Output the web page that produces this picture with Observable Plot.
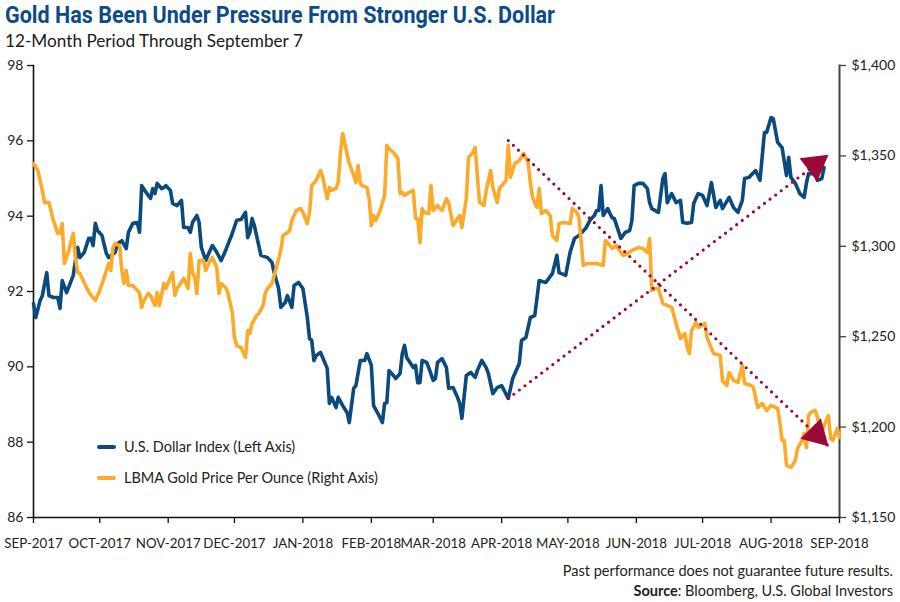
<!DOCTYPE html>
<html><head><meta charset="utf-8">
<script src="https://cdn.jsdelivr.net/npm/d3@7"></script>
<script src="https://cdn.jsdelivr.net/npm/@observablehq/plot@0.6"></script>
<style>
body{margin:0;background:#fff;}
#wrap{position:relative;width:900px;height:602px;overflow:hidden;font-family:Lato,"Open Sans",sans-serif;color:#222;}
#title{position:absolute;left:5px;top:1px;font-family:Roboto,sans-serif;font-weight:700;font-size:24px;color:#0d4b87;white-space:nowrap;transform-origin:0 0;}
#subtitle{position:absolute;left:5px;top:30px;font-size:17.2px;white-space:nowrap;color:#1a1a1a;}
#chart{position:absolute;left:0;top:55px;}
.leg{position:absolute;left:97px;font-size:14.5px;white-space:nowrap;display:flex;align-items:center;}
.leg span.sw{display:inline-block;width:19px;height:4px;border-radius:2px;margin-right:8px;}
#foot{position:absolute;right:7px;top:561px;text-align:right;font-size:14.5px;line-height:20px;color:#222;}
</style></head>
<body>
<div id="wrap">
<div id="title">Gold Has Been Under Pressure From Stronger U.S. Dollar</div>
<div id="subtitle">12-Month Period Through September 7</div>
<div id="chart"></div>
<div class="leg" style="top:438px"><span class="sw" style="background:#0a4a7c"></span>U.S. Dollar Index (Left Axis)</div>
<div class="leg" style="top:469px"><span class="sw" style="background:#fcaa2a"></span>LBMA Gold Price Per Ounce (Right Axis)</div>
<div id="foot">Past performance does not guarantee future results.<br><b>Source</b>: Bloomberg, U.S. Global Investors</div>
</div>
<script>
// U.S. Dollar Index (left axis)
const dollarIndex = [
["2017-09-01",91.68],["2017-09-02",91.31],["2017-09-04",91.76],["2017-09-05",91.89],["2017-09-07",92.50],["2017-09-08",91.89],
["2017-09-10",91.84],["2017-09-12",91.84],["2017-09-13",91.55],["2017-09-14",92.29],["2017-09-16",91.97],["2017-09-19",92.43],
["2017-09-20",92.82],["2017-09-21",93.17],["2017-09-22",92.90],["2017-09-24",93.04],["2017-09-26",93.41],["2017-09-27",93.41],
["2017-09-28",93.22],["2017-09-29",93.81],["2017-09-30",93.62],["2017-10-02",93.49],["2017-10-04",93.01],["2017-10-05",92.90],
["2017-10-08",93.04],["2017-10-09",93.27],["2017-10-11",93.35],["2017-10-13",93.14],["2017-10-14",93.57],["2017-10-16",93.81],
["2017-10-18",93.83],["2017-10-19",93.57],["2017-10-20",94.81],["2017-10-22",94.63],["2017-10-24",94.47],["2017-10-25",94.73],
["2017-10-26",94.60],["2017-10-27",94.87],["2017-10-29",94.73],["2017-10-30",94.76],["2017-10-31",94.81],["2017-11-02",94.68],
["2017-11-03",94.34],["2017-11-05",94.28],["2017-11-07",94.42],["2017-11-08",93.70],["2017-11-10",93.70],["2017-11-11",93.57],
["2017-11-12",93.83],["2017-11-14",94.02],["2017-11-15",93.83],["2017-11-16",93.17],["2017-11-18",92.82],["2017-11-19",92.96],
["2017-11-21",93.22],["2017-11-23",93.04],["2017-11-25",92.82],["2017-11-27",93.09],["2017-11-30",93.54],["2017-12-02",93.89],
["2017-12-04",93.91],["2017-12-06",94.10],["2017-12-07",93.43],["2017-12-08",93.57],["2017-12-09",93.94],["2017-12-10",93.75],
["2017-12-11",93.49],["2017-12-13",92.96],["2017-12-16",92.90],["2017-12-18",92.77],["2017-12-19",92.50],["2017-12-21",92.08],
["2017-12-22",91.58],["2017-12-24",91.71],["2017-12-25",91.89],["2017-12-27",91.58],["2017-12-28",92.16],["2017-12-30",92.24],
["2018-01-01",92.08],["2018-01-03",91.31],["2018-01-04",90.75],["2018-01-05",90.70],["2018-01-06",90.17],["2018-01-07",90.30],
["2018-01-09",90.38],["2018-01-12",89.96],["2018-01-13",89.03],["2018-01-14",89.19],["2018-01-16",88.92],["2018-01-17",89.19],
["2018-01-19",88.97],["2018-01-21",88.79],["2018-01-22",88.52],["2018-01-24",89.43],["2018-01-25",89.50],["2018-01-27",90.17],
["2018-01-29",90.17],["2018-01-30",90.35],["2018-02-01",90.04],["2018-02-02",88.97],["2018-02-04",88.76],["2018-02-06",88.52],
["2018-02-07",89.03],["2018-02-08",89.05],["2018-02-09",89.90],["2018-02-11",89.77],["2018-02-12",89.69],["2018-02-14",89.82],
["2018-02-15",90.35],["2018-02-16",90.57],["2018-02-17",90.25],["2018-02-20",89.98],["2018-02-21",90.04],["2018-02-22",89.58],
["2018-02-23",89.58],["2018-02-24",90.17],["2018-02-26",90.12],["2018-02-27",89.98],["2018-03-01",89.64],["2018-03-02",89.69],
["2018-03-03",90.12],["2018-03-05",90.22],["2018-03-07",89.98],["2018-03-08",89.43],["2018-03-10",89.45],["2018-03-12",89.19],
["2018-03-13",89.03],["2018-03-14",88.63],["2018-03-16",89.77],["2018-03-18",89.85],["2018-03-20",89.72],["2018-03-21",89.90],
["2018-03-23",90.17],["2018-03-25",89.98],["2018-03-26",89.82],["2018-03-28",89.29],["2018-03-30",89.45],["2018-04-01",89.50],
["2018-04-04",89.16],["2018-04-06",89.69],["2018-04-09",90.09],["2018-04-10",90.70],["2018-04-12",90.78],["2018-04-14",91.31],
["2018-04-16",91.36],["2018-04-18",92.29],["2018-04-21",92.24],["2018-04-24",92.48],["2018-04-26",92.96],["2018-04-27",92.50],
["2018-04-30",92.43],["2018-05-02",93.04],["2018-05-04",93.41],["2018-05-06",93.49],["2018-05-09",93.67],["2018-05-11",93.89],
["2018-05-13",94.02],["2018-05-14",94.15],["2018-05-15",94.15],["2018-05-16",94.81],["2018-05-17",94.02],["2018-05-19",94.20],
["2018-05-21",93.96],["2018-05-22",93.94],["2018-05-25",93.41],["2018-05-27",93.57],["2018-05-29",93.62],["2018-05-30",93.89],
["2018-05-31",94.81],["2018-06-02",94.87],["2018-06-04",94.87],["2018-06-06",94.73],["2018-06-07",94.36],["2018-06-08",94.20],
["2018-06-11",94.10],["2018-06-13",95.00],["2018-06-14",95.13],["2018-06-15",94.36],["2018-06-17",94.60],["2018-06-19",94.36],
["2018-06-21",94.42],["2018-06-22",93.83],["2018-06-24",93.81],["2018-06-26",93.83],["2018-06-27",94.34],["2018-06-29",94.60],
["2018-07-01",94.55],["2018-07-03",94.28],["2018-07-05",94.89],["2018-07-07",94.23],["2018-07-09",94.42],["2018-07-10",94.20],
["2018-07-13",94.50],["2018-07-15",94.23],["2018-07-17",94.10],["2018-07-19",94.42],["2018-07-20",95.00],["2018-07-22",95.03],
["2018-07-25",95.21],["2018-07-27",94.95],["2018-07-29",96.22],["2018-07-30",96.22],["2018-08-01",96.62],["2018-08-02",96.59],
["2018-08-04",95.96],["2018-08-06",95.82],["2018-08-08",95.08],["2018-08-09",95.56],["2018-08-10",95.03],["2018-08-12",94.87],
["2018-08-14",94.60],["2018-08-16",94.50],["2018-08-17",94.87],["2018-08-18",95.13],["2018-08-21",95.13],["2018-08-22",94.95],
["2018-08-24",95.00],["2018-08-25",95.29]
];
// LBMA gold price per ounce (right axis, USD)
const goldPrice = [
["2017-09-01",1345.8],["2017-09-03",1341.9],["2017-09-05",1330.9],["2017-09-06",1324.2],["2017-09-08",1324.2],["2017-09-10",1314.3],
["2017-09-12",1307.1],["2017-09-13",1307.1],["2017-09-14",1312.6],["2017-09-15",1290.5],["2017-09-17",1297.7],["2017-09-19",1307.1],
["2017-09-20",1293.8],["2017-09-21",1285.5],["2017-09-22",1285.0],["2017-09-25",1277.2],["2017-09-27",1272.8],["2017-09-28",1271.7],
["2017-09-29",1270.0],["2017-10-01",1275.6],["2017-10-03",1282.7],["2017-10-04",1286.6],["2017-10-05",1290.5],["2017-10-06",1286.6],
["2017-10-07",1299.3],["2017-10-08",1301.5],["2017-10-10",1300.4],["2017-10-11",1286.6],["2017-10-12",1279.4],["2017-10-13",1286.6],
["2017-10-14",1278.3],["2017-10-16",1278.3],["2017-10-18",1275.6],["2017-10-19",1274.4],["2017-10-20",1266.2],["2017-10-21",1270.0],
["2017-10-23",1273.9],["2017-10-24",1272.8],["2017-10-26",1267.3],["2017-10-27",1274.4],["2017-10-28",1267.3],["2017-10-29",1272.8],
["2017-10-30",1279.4],["2017-10-31",1276.7],["2017-11-02",1282.7],["2017-11-03",1285.5],["2017-11-04",1272.8],["2017-11-05",1276.7],
["2017-11-06",1278.3],["2017-11-08",1282.2],["2017-11-10",1276.7],["2017-11-11",1296.0],["2017-11-12",1285.5],["2017-11-13",1282.7],
["2017-11-14",1273.9],["2017-11-15",1292.1],["2017-11-17",1292.1],["2017-11-18",1286.6],["2017-11-20",1292.1],["2017-11-21",1293.8],
["2017-11-23",1288.3],["2017-11-24",1273.9],["2017-11-25",1279.4],["2017-11-27",1277.2],["2017-11-28",1274.4],["2017-11-30",1263.4],
["2017-12-01",1249.6],["2017-12-02",1245.1],["2017-12-04",1244.0],["2017-12-06",1238.5],["2017-12-07",1253.4],["2017-12-08",1251.8],
["2017-12-09",1257.3],["2017-12-11",1261.7],["2017-12-12",1262.8],["2017-12-14",1267.3],["2017-12-15",1274.4],["2017-12-16",1276.7],
["2017-12-18",1279.4],["2017-12-20",1288.3],["2017-12-22",1297.7],["2017-12-23",1306.0],["2017-12-25",1307.6],["2017-12-26",1308.7],
["2017-12-27",1314.3],["2017-12-29",1319.8],["2017-12-31",1320.9],["2018-01-01",1318.7],["2018-01-03",1312.6],["2018-01-04",1318.7],
["2018-01-05",1333.6],["2018-01-07",1336.4],["2018-01-09",1341.9],["2018-01-10",1338.1],["2018-01-12",1326.4],["2018-01-13",1332.5],
["2018-01-14",1330.9],["2018-01-16",1332.0],["2018-01-17",1335.3],["2018-01-18",1351.3],["2018-01-19",1362.4],["2018-01-21",1351.3],
["2018-01-22",1345.8],["2018-01-24",1339.2],["2018-01-25",1335.3],["2018-01-26",1344.7],["2018-01-27",1334.7],["2018-01-28",1333.6],
["2018-01-30",1332.5],["2018-01-31",1326.4],["2018-02-01",1311.5],["2018-02-02",1317.0],["2018-02-03",1314.3],["2018-02-05",1319.8],
["2018-02-07",1328.1],["2018-02-08",1355.8],["2018-02-09",1354.1],["2018-02-11",1351.9],["2018-02-13",1348.6],["2018-02-14",1329.2],
["2018-02-15",1329.8],["2018-02-16",1328.1],["2018-02-18",1329.8],["2018-02-20",1330.9],["2018-02-21",1315.4],["2018-02-22",1315.4],
["2018-02-23",1302.1],["2018-02-24",1320.9],["2018-02-25",1318.7],["2018-02-27",1318.1],["2018-02-28",1333.6],["2018-03-01",1319.8],
["2018-03-03",1322.6],["2018-03-04",1320.9],["2018-03-05",1319.8],["2018-03-07",1326.4],["2018-03-08",1324.2],["2018-03-10",1311.5],
["2018-03-12",1315.4],["2018-03-13",1317.0],["2018-03-14",1310.4],["2018-03-16",1326.4],["2018-03-17",1349.1],["2018-03-19",1351.9],
["2018-03-20",1354.6],["2018-03-22",1324.2],["2018-03-24",1322.6],["2018-03-25",1330.9],["2018-03-27",1341.9],["2018-03-28",1332.5],
["2018-03-30",1324.2],["2018-03-31",1332.0],["2018-04-03",1336.4],["2018-04-04",1355.8],["2018-04-05",1338.1],["2018-04-07",1345.8],
["2018-04-09",1347.5],["2018-04-11",1351.3],["2018-04-13",1346.3],["2018-04-14",1335.3],["2018-04-15",1327.0],["2018-04-17",1321.5],
["2018-04-18",1332.0],["2018-04-19",1318.1],["2018-04-21",1319.8],["2018-04-23",1317.0],["2018-04-24",1306.0],["2018-04-26",1303.2],
["2018-04-27",1312.6],["2018-04-29",1313.2],["2018-05-02",1312.6],["2018-05-03",1320.9],["2018-05-05",1318.7],["2018-05-06",1315.9],
["2018-05-08",1289.4],["2018-05-10",1290.5],["2018-05-12",1290.5],["2018-05-14",1290.5],["2018-05-17",1289.4],["2018-05-18",1303.2],
["2018-05-20",1300.4],["2018-05-21",1298.8],["2018-05-23",1300.4],["2018-05-25",1296.6],["2018-05-26",1294.9],["2018-05-28",1296.0],
["2018-05-30",1297.7],["2018-06-02",1299.3],["2018-06-04",1298.8],["2018-06-06",1296.6],["2018-06-07",1304.3],["2018-06-08",1275.6],
["2018-06-10",1276.7],["2018-06-11",1276.7],["2018-06-13",1268.4],["2018-06-15",1267.3],["2018-06-17",1266.2],["2018-06-19",1257.3],
["2018-06-21",1249.0],["2018-06-23",1251.8],["2018-06-24",1244.0],["2018-06-25",1240.7],["2018-06-26",1253.4],["2018-06-28",1257.9],
["2018-06-29",1255.1],["2018-07-02",1257.3],["2018-07-03",1249.6],["2018-07-05",1243.5],["2018-07-06",1240.7],["2018-07-09",1239.6],
["2018-07-10",1225.8],["2018-07-12",1223.0],["2018-07-13",1230.2],["2018-07-15",1225.8],["2018-07-17",1224.7],["2018-07-19",1234.1],
["2018-07-20",1224.1],["2018-07-23",1223.0],["2018-07-24",1221.9],["2018-07-26",1210.8],["2018-07-28",1213.1],["2018-07-30",1209.2],
["2018-08-01",1212.0],["2018-08-04",1210.3],["2018-08-05",1202.5],["2018-08-06",1192.6],["2018-08-07",1192.6],["2018-08-08",1178.8],
["2018-08-10",1177.7],["2018-08-12",1181.5],["2018-08-13",1188.2],["2018-08-15",1192.6],["2018-08-16",1196.5],["2018-08-17",1188.7],
["2018-08-18",1206.4],["2018-08-19",1208.1],["2018-08-21",1209.2],["2018-08-22",1205.3],["2018-08-24",1196.5],["2018-08-25",1200.9],
["2018-08-27",1206.4],["2018-08-28",1193.7],["2018-08-29",1192.6],["2018-08-31",1199.2],["2018-09-01",1194.2]
];
// Trend arrows: [start date, start value, end date, end value]
const dollarTrend = ["2018-04-04", 89.16, "2018-08-27", 95.63];
const goldTrend = ["2018-04-04", 1358.5, "2018-08-27", 1189.4];
// Axis ticks
const monthTicks = ["2017-09-01","2017-10-01","2017-11-01","2017-12-01","2018-01-01","2018-02-01","2018-03-01","2018-04-01","2018-05-01","2018-06-01","2018-07-01","2018-08-01","2018-09-01"];
const dollarTicks = [86, 88, 90, 92, 94, 96, 98];
const goldTicks = [1150, 1200, 1250, 1300, 1350, 1400];

const leftMin = 86, leftMax = 98, goldMin = 1150, goldMax = 1400;
const goldToLeft = g => leftMin + (g - goldMin) * (leftMax - leftMin) / (goldMax - goldMin);
const leftToGold = v => goldMin + (v - leftMin) * (goldMax - goldMin) / (leftMax - leftMin);
const D = s => new Date(s);

const dollarData = dollarIndex.map(([d, v]) => ({date: D(d), v}));
const goldData = goldPrice.map(([d, g]) => ({date: D(d), v: goldToLeft(g)}));
const trends = [
  {x1: D(dollarTrend[0]), y1: dollarTrend[1], x2: D(dollarTrend[2]), y2: dollarTrend[3], angle: 53},
  {x1: D(goldTrend[0]), y1: goldToLeft(goldTrend[1]), x2: D(goldTrend[2]), y2: goldToLeft(goldTrend[3]), angle: 135}
];
// arrowhead: triangle whose tip is at the anchor point
const tipTriangle = {
  draw(ctx, size) {
    const s = Math.sqrt(size / 0.433), h = s * 0.866;
    ctx.moveTo(0, 0); ctx.lineTo(-s / 2, h); ctx.lineTo(s / 2, h); ctx.closePath();
  }
};
const fmtMonth = d3.utcFormat("%b-%Y");
const crimson = "#9a0a36";

const chart = Plot.plot({
  width: 900, height: 547,
  marginLeft: 33, marginRight: 61, marginTop: 10, marginBottom: 85,
  style: {fontFamily: "Lato, 'Open Sans', sans-serif", fontSize: "14px", color: "#222", background: "transparent", overflow: "visible"},
  x: {type: "utc", domain: [D(monthTicks[0]), D(monthTicks[monthTicks.length - 1])]},
  y: {domain: [leftMin, leftMax]},
  marks: [
    Plot.axisY({anchor: "left", ticks: dollarTicks, tickSize: 6, tickPadding: 4, label: null, stroke: "#111", strokeWidth: 1.3}),
    Plot.axisY({anchor: "right", ticks: goldTicks.map(goldToLeft), tickSize: 6, tickPadding: 6, label: null, stroke: "#444", strokeWidth: 1.3,
      tickFormat: v => "$" + d3.format(",")(Math.round(leftToGold(v)))}),
    Plot.axisX({ticks: monthTicks.map(D), tickSize: 6, tickPadding: 15, label: null, stroke: "#111", strokeWidth: 1.3,
      fontSize: 13.3, tickFormat: d => fmtMonth(d).toUpperCase()}),
    Plot.frame({anchor: "left", stroke: "#111", strokeWidth: 1.6}),
    Plot.frame({anchor: "right", stroke: "#444", strokeWidth: 2}),
    Plot.frame({anchor: "bottom", stroke: "#111", strokeWidth: 1.6}),
    Plot.line(dollarData, {x: "date", y: "v", stroke: "#0a4a7c", strokeWidth: 3.6, strokeLinejoin: "round", strokeLinecap: "round"}),
    Plot.line(goldData, {x: "date", y: "v", stroke: "#fcaa2a", strokeWidth: 3.6, strokeLinejoin: "round", strokeLinecap: "round"}),
    Plot.link(trends, {x1: "x1", y1: "y1", x2: "x2", y2: "y2", stroke: crimson, strokeWidth: 3.2, strokeDasharray: "0 7", strokeLinecap: "round"}),
    Plot.dot(trends, {x: "x2", y: "y2", symbol: tipTriangle, r: 10.8, fill: crimson, stroke: "none", rotate: "angle"})
  ]
});
document.getElementById("chart").appendChild(chart);
// fit title to the reference width (condensed look)
const t = document.getElementById("title");
const w = t.getBoundingClientRect().width;
t.style.transform = `scaleX(${550 / w})`;
</script>
</body></html>
